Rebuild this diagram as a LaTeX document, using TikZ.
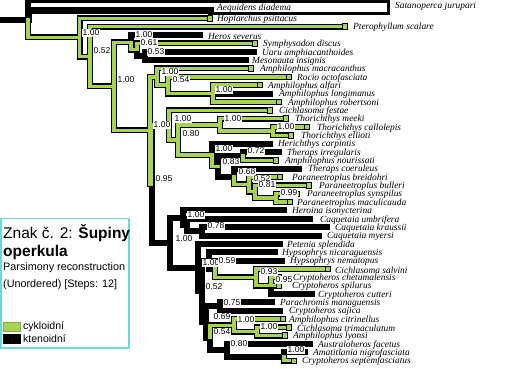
\documentclass[tikz,border=0pt]{standalone}
\usepackage{fontspec}
\setmainfont{Liberation Serif}
\setsansfont{Liberation Sans}
\definecolor{cyk}{RGB}{166,212,80}
\definecolor{legb}{RGB}{110,215,220}
\begin{document}
\begin{tikzpicture}[x=1pt,y=-1pt,
  br/.style={line width=6pt, line cap=rect, line join=miter, black},
  gi/.style={line width=3.4pt, line cap=rect, line join=miter, cyk},
  sat/.style={line width=3.3pt, line cap=rect, line join=miter, black},
  gbox/.style={draw=black, line width=1pt, fill=cyk, minimum width=5.5pt, minimum height=5.5pt, inner sep=0pt, anchor=east},
  tl/.style={anchor=west, font=\fontsize{9.4}{10}\selectfont\itshape, inner sep=0pt},
  nl/.style={anchor=west, font=\sffamily\fontsize{8.5}{9}\selectfont, inner sep=0.5pt, fill=white},
  lg/.style={anchor=west, inner sep=0pt, font=\sffamily}
]
\useasboundingbox (0,0) rectangle (509,369);
% internal nodes
\coordinate (R0) at (28,19.6);
\coordinate (N1) at (79.5,37.49);
\coordinate (N2) at (90,56.57);
\coordinate (N3) at (114,86.39);
\coordinate (HS) at (131,42.4);
\coordinate (SU) at (137,49.7);
\coordinate (UM) at (145,55.98);
\coordinate (N4) at (150,130.37);
\coordinate (A1) at (157,76.85);
\coordinate (A2) at (168,85.2);
\coordinate (A3) at (213,93.55);
\coordinate (N5) at (151.5,183.89);
\coordinate (G1) at (169,125.09);
\coordinate (G2) at (178,139.93);
\coordinate (T1) at (220,124.86);
\coordinate (T2) at (273,131.13);
\coordinate (H1) at (212,155.0);
\coordinate (H2) at (218,166.35);
\coordinate (H3) at (243,156.18);
\coordinate (H4) at (234,176.53);
\coordinate (H5) at (249,184.36);
\coordinate (H6) at (255,191.66);
\coordinate (H7) at (276,197.93);
\coordinate (K) at (170,242.68);
\coordinate (KA) at (183,217.76);
\coordinate (KB) at (187,225.06);
\coordinate (KB2) at (202,231.33);
\coordinate (P) at (198,267.6);
\coordinate (R) at (202,291.34);
\coordinate (X) at (209,260.55);
\coordinate (W) at (215,268.9);
\coordinate (Q93) at (256,277.25);
\coordinate (ZZ) at (271,285.6);
\coordinate (E0) at (206,322.13);
\coordinate (E1) at (210,337.79);
\coordinate (S75) at (220,306.48);
\coordinate (C1) at (234,325.26);
\coordinate (C2) at (257,331.53);
\coordinate (D1) at (227,350.31);
\coordinate (D2) at (284,356.58);
% Satanoperca branch (hollow bar) corners
\coordinate (s0) at (28,1.65);
\coordinate (s1) at (388.3,1.65);
\coordinate (s2) at (388.3,13.3);
\coordinate (s3) at (210,13.3);
% tips
\coordinate (t1) at (210,10.8);
\coordinate (t2) at (210,18.4);
\coordinate (t3) at (345,26.75);
\coordinate (t4) at (200,35.1);
\coordinate (t5) at (255,43.45);
\coordinate (t6) at (254,51.8);
\coordinate (t7) at (246,60.15);
\coordinate (t8) at (251,68.5);
\coordinate (t9) at (289,76.85);
\coordinate (t10) at (260,85.2);
\coordinate (t11) at (270,93.55);
\coordinate (t12) at (279,101.9);
\coordinate (t13) at (270,110.25);
\coordinate (t14) at (286,118.6);
\coordinate (t15) at (307,126.95);
\coordinate (t16) at (291,135.3);
\coordinate (t17) at (270,143.65);
\coordinate (t18) at (279,152);
\coordinate (t19) at (276,160.35);
\coordinate (t20) at (299,168.7);
\coordinate (t21) at (280,177.05);
\coordinate (t22) at (309,185.4);
\coordinate (t23) at (297,193.75);
\coordinate (t24) at (290,202.1);
\coordinate (t25) at (284,210.45);
\coordinate (t26) at (310,218.8);
\coordinate (t27) at (327,227.15);
\coordinate (t28) at (319,235.5);
\coordinate (t29) at (280,243.85);
\coordinate (t30) at (275,252.2);
\coordinate (t31) at (282,260.55);
\coordinate (t32) at (328,268.9);
\coordinate (t33) at (279,277.25);
\coordinate (t34) at (279,285.6);
\coordinate (t35) at (312,293.95);
\coordinate (t36) at (272,302.3);
\coordinate (t37) at (280,310.65);
\coordinate (t38) at (283,319);
\coordinate (t39) at (289,327.35);
\coordinate (t40) at (285,335.7);
\coordinate (t41) at (310,344.05);
\coordinate (t42) at (305,352.4);
\coordinate (t43) at (294,360.75);
\coordinate (rootin) at (0,19.6);
% root and Satanoperca
\draw[br] (rootin) -- (R0) -- (s0);
\draw[sat] (s0) -- (s1) -- (s2) -- (s3);
\draw[br, line width=7pt] (R0) |- (t1);
% black outlines of every branch
\foreach \p/\c in {R0/N1,N1/t2,N1/N2,N2/t3,N2/N3,N3/HS,HS/t4,HS/SU,SU/t5,SU/UM,UM/t6,UM/t7,
  N3/N4,N4/A1,A1/t8,A1/A2,A2/t9,A2/A3,A3/t10,A3/t11,A3/t12,N4/N5,N5/G1,G1/t13,G1/G2,G2/T1,T1/t14,T1/T2,T2/t15,T2/t16,
  G2/H1,H1/t17,H1/H2,H2/H3,H3/t18,H3/t19,H2/H4,H4/t20,H4/H5,H5/t21,H5/H6,H6/t22,H6/H7,H7/t23,H7/t24,
  N5/K,K/KA,KA/t25,KA/KB,KB/t26,KB/KB2,KB2/t27,KB2/t28,K/P,P/t29,P/R,R/X,X/t30,X/W,W/t31,W/Q93,Q93/t32,Q93/ZZ,ZZ/t33,ZZ/t34,ZZ/t35,
  R/E0,E0/S75,S75/t36,S75/t37,E0/E1,E1/C1,C1/t38,C1/C2,C2/t39,C2/t40,E1/D1,D1/t41,D1/D2,D2/t42,D2/t43}
  \draw[br] (\p) |- (\c);
% green (cycloid) fills
\foreach \p/\c in {R0/N1,N1/t2,N1/N2,N2/t3,N2/N3,N3/HS,HS/SU,SU/t5,
  N3/N4,N4/A1,A1/t8,A1/A2,A2/t9,A2/A3,A3/t10,A3/t12,N4/N5,N5/G1,G1/t13,G1/G2,G2/T1,T1/t14,T1/T2,T2/t15,T2/t16,
  G2/H1,H1/H2,H3/t19,H4/H5,H5/t21,H5/H6,H6/t22,H6/H7,H7/t23,H7/t24,
  W/Q93,Q93/t32,Q93/ZZ,ZZ/t33,ZZ/t34,E1/C1,C1/t38,C1/C2,C2/t39,C2/t40,D2/t43}
  \draw[gi] (\p) |- (\c);
% terminal boxes
\foreach \t in {t2,t3,t5,t8,t9,t10,t12,t13,t14,t15,t16,t19,t21,t22,t23,t24,t32,t33,t34,t38,t39,t40,t43}
  \node[gbox] (b\t) at ([xshift=3pt]\t) {};
% node support values
\node[nl] (v1) at (82,33) {1.00};
\node[nl] (v2) at (93,51) {0.52};
\node[nl] (v3) at (117,80) {1.00};
\node[nl] (v4) at (135,35) {1.00};
\node[nl] (v5) at (140,43) {0.61};
\node[nl] (v6) at (147,52) {0.53};
\node[nl] (v7) at (161,72) {1.00};
\node[nl] (v8) at (172,80) {0.54};
\node[nl] (v9) at (215,90) {1.00};
\node[nl] (v10) at (153,125) {1.00};
\node[nl] (v11) at (174,119) {1.00};
\node[nl] (v12) at (182,134) {0.80};
\node[nl] (v13) at (224,119) {1.00};
\node[nl] (v14) at (277,127) {1.00};
\node[nl] (v15) at (215,149) {1.00};
\node[nl] (v16) at (247,151) {0.72};
\node[nl] (v17) at (222,162) {0.83};
\node[nl] (v18) at (238,172) {0.68};
\node[nl] (v19) at (253,179) {0.52};
\node[nl] (v20) at (258,185) {0.81};
\node[nl] (v21) at (280,193) {0.99};
\node[nl] (v22) at (155,179) {0.95};
\node[nl] (v23) at (187,215) {1.00};
\node[nl] (v24) at (207,226) {0.78};
\node[nl] (v25) at (175,239) {1.00};
\node[nl] (v26) at (202,263) {1.00};
\node[nl] (v27) at (218,261) {0.59};
\node[nl] (v28) at (260,272) {0.93};
\node[nl] (v29) at (275,280) {0.95};
\node[nl] (v30) at (205,287) {0.52};
\node[nl] (v31) at (223,303) {0.75};
\node[nl] (v32) at (213,317) {0.69};
\node[nl] (v33) at (237,320) {1.00};
\node[nl] (v34) at (260,327) {1.00};
\node[nl] (v35) at (213,332) {0.54};
\node[nl] (v36) at (230,344) {0.80};
\node[nl] (v37) at (287,350) {1.00};
% taxon names
\node[tl] (l0) at (395,6) {Satanoperca jurupari};
\node[tl] (l1) at (217,8.6) {Aequidens diadema};
\node[tl] (l2) at (217,19.4) {Hoplarchus psittacus};
\node[tl] (l3) at (353,27.7) {Pterophyllum scalare};
\node[tl] (l4) at (208,36.1) {Heros severus};
\node[tl] (l5) at (263,44.4) {Symphysodon discus};
\node[tl] (l6) at (262,52.8) {Uaru amphiacanthoides};
\node[tl] (l7) at (252,61.1) {Mesonauta insignis};
\node[tl] (l8) at (260,69.5) {Amphilophus macracanthus};
\node[tl] (l9) at (297,77.8) {Rocio octofasciata};
\node[tl] (l10) at (268,86.2) {Amphilophus alfari};
\node[tl] (l11) at (279,94.5) {Amphilophus longimanus};
\node[tl] (l12) at (288,102.9) {Amphilophus robertsoni};
\node[tl] (l13) at (279,111.2) {Cichlasoma festae};
\node[tl] (l14) at (295,119.6) {Thorichthys meeki};
\node[tl] (l15) at (317,127.9) {Thorichthys callolepis};
\node[tl] (l16) at (301,136.3) {Thorichthys ellioti};
\node[tl] (l17) at (278,144.6) {Herichthys carpintis};
\node[tl] (l18) at (287,153) {Theraps irregularis};
\node[tl] (l19) at (285,161.3) {Amphilophus nourissati};
\node[tl] (l20) at (308,169.7) {Theraps coeruleus};
\node[tl] (l21) at (292,178) {Paraneetroplus breidohri};
\node[tl] (l22) at (319,186.4) {Paraneetroplus bulleri};
\node[tl] (l23) at (307,194.7) {Paraneetroplus synspilus};
\node[tl] (l24) at (297,203.1) {Paraneetroplus maculicauda};
\node[tl] (l25) at (292,211.4) {Heroina isonycterina};
\node[tl] (l26) at (320,219.8) {Caquetaia umbrifera};
\node[tl] (l27) at (335,228.1) {Caquetaia kraussii};
\node[tl] (l28) at (327,236.5) {Caquetaia myersi};
\node[tl] (l29) at (287,244.8) {Petenia splendida};
\node[tl] (l30) at (282,253.2) {Hypsophrys nicaraguensis};
\node[tl] (l31) at (290,261.5) {Hypsophrys nematopus};
\node[tl] (l32) at (335,269.9) {Cichlasoma salvini};
\node[tl] (l33) at (293,278.2) {Cryptoheros chetumalensis};
\node[tl] (l34) at (292,286.6) {Cryptoheros spilurus};
\node[tl] (l35) at (318,294.9) {Cryptoheros cutteri};
\node[tl] (l36) at (280,303.3) {Parachromis managuensis};
\node[tl] (l37) at (289,311.6) {Cryptoheros sajica};
\node[tl] (l38) at (289,320) {Amphilophus citrinellus};
\node[tl] (l39) at (297,328.3) {Cichlasoma trimaculatum};
\node[tl] (l40) at (293,336.7) {Amphilophus lyonsi};
\node[tl] (l41) at (318,345) {Australoheros facetus};
\node[tl] (l42) at (313,353.4) {Amatitlania nigrofasciata};
\node[tl] (l43) at (302,361.7) {Cryptoheros septemfasciatus};
% legend
\draw[legb, line width=1.2pt, fill=white] (1,218.3) rectangle (129,348);
\node[lg, font=\sffamily\fontsize{15.5}{16}\selectfont] (lt1) at (3,233) {Znak č. 2: \textbf{Šupiny}};
\node[lg, font=\sffamily\bfseries\fontsize{15.5}{16}\selectfont] (lt2) at (3,252) {operkula};
\node[lg, font=\sffamily\fontsize{10.8}{11}\selectfont] (lt3) at (3,268) {Parsimony reconstruction};
\node[lg, font=\sffamily\fontsize{10.8}{11}\selectfont] (lt4) at (3,285) {(Unordered) [Steps: 12]};
\draw[fill=cyk, draw=cyk!80!black, line width=0.4pt] (3,322) rectangle (20,331);
\draw[fill=black] (3,334) rectangle (20,343);
\node[lg, font=\sffamily\fontsize{10.5}{11}\selectfont] (lc) at (23,327) {cykloidní};
\node[lg, font=\sffamily\fontsize{10.5}{11}\selectfont] (lk) at (23,339) {ktenoidní};
\end{tikzpicture}
\end{document}
